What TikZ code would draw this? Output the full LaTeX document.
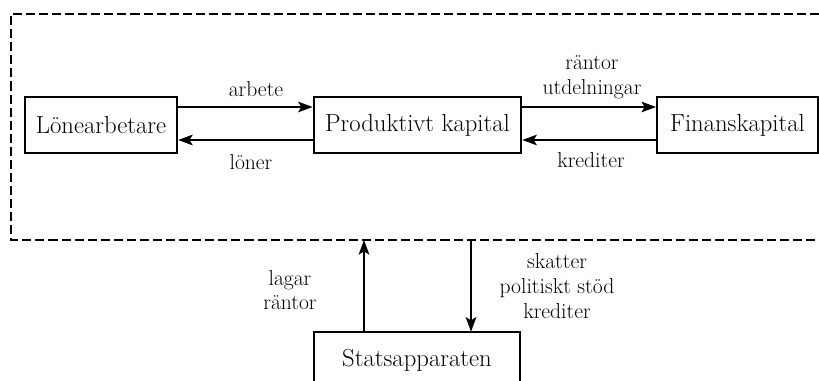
\documentclass[tikz,border=0pt]{standalone}
\usetikzlibrary{arrows.meta}
\tikzset{
  boxnode/.style={draw, line width=1.7pt, minimum height=42pt, inner sep=0pt,
    font=\fontsize{18.5}{21}\selectfont},
  boxtext/.style={minimum height=42pt, inner sep=0pt, font=\fontsize{18.5}{21}\selectfont},
  boxline/.style={line width=1.7pt},
  lbl/.style={align=center, inner sep=0pt, font=\fontsize{16.2}{18.5}\selectfont},
  flow/.style={line width=1pt, -{Stealth[length=11pt,width=8pt,inset=2.5pt]}},
  dashbox/.style={line width=1.7pt, dash pattern=on 6.8pt off 3pt}
}
\begin{document}
\begin{tikzpicture}[x=0.75pt,y=-0.75pt]
\useasboundingbox (0,0) rectangle (819,381);
% boxes
\node[boxnode, minimum width=114pt] (L) at (101,125) {Lönearbetare};
\node[boxnode, minimum width=155.5pt] (P) at (417.5,125) {Produktivt kapital};
\node[boxnode, minimum width=120.5pt] (F) at (737.5,125) {Finanskapital};
\node[boxtext, minimum width=154.5pt] (S) at (417,360) {Statsapparaten};
\coordinate (pagebottom) at (0,381);
\draw[boxline] (S.west |- pagebottom) -- (S.north west) -- (S.north east) -- (S.east |- pagebottom);
% labels
\node[lbl] (t1) at (256,89) {arbete};
\node[lbl] (t2) at (251,162) {löner};
\node[lbl] (t3) at (592,77) {räntor\\utdelningar};
\node[lbl] (t4) at (591,160) {krediter};
\node[lbl] (t5) at (290,290) {lagar\\räntor};
\node[lbl] (t6) at (557,286) {skatter\\politiskt stöd\\krediter};
% dashed system border
\draw[dashbox] (819,14) -- (11,14) -- (11,240) -- (819,240);
\coordinate (Db) at (0,240);
% helper coordinates
\coordinate (ya) at (0,107);
\coordinate (yb) at (0,140);
\coordinate (xu) at (364,0);
\coordinate (xd) at (471,0);
% horizontal flows
\draw[flow] (L.east |- ya) -- (P.west |- ya);
\draw[flow] (P.west |- yb) -- (L.east |- yb);
\draw[flow] (P.east |- ya) -- (F.west |- ya);
\draw[flow] (F.west |- yb) -- (P.east |- yb);
% vertical flows
\draw[flow] (S.north -| xu) -- (Db -| xu);
\draw[flow] (Db -| xd) -- (S.north -| xd);
\end{tikzpicture}
\end{document}
